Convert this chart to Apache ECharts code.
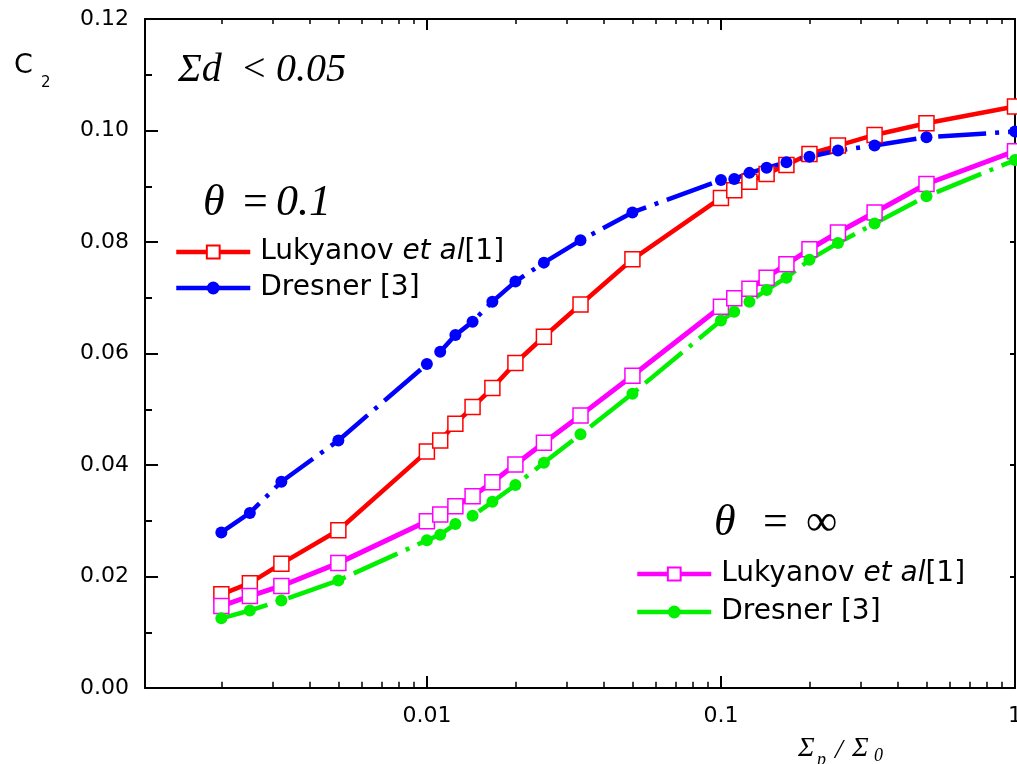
<!DOCTYPE html>
<html>
<head>
<meta charset="utf-8">
<script src="https://cdn.jsdelivr.net/npm/echarts@6.0.0/dist/echarts.min.js"></script>
<style>
  html, body { margin: 0; padding: 0; background: #fff; }
  #main { width: 1017px; height: 764px; }
</style>
</head>
<body>
<div id="main"></div>
<script>
  // Σp/Σ0 (x), roughly 1/500 ... 1
  var sigmaRatio = [0.002, 0.0025, 0.0032, 0.005, 0.01, 0.0111, 0.0125, 0.0143, 0.0167, 0.02, 0.025, 0.0333, 0.05,
                    0.1, 0.111, 0.125, 0.143, 0.167, 0.2, 0.25, 0.333, 0.5, 1];
  // C2 values
  var lukyanov01 = [0.0168, 0.0188, 0.0223, 0.0283, 0.0424, 0.0444, 0.0474, 0.0504, 0.0538, 0.0583, 0.0630, 0.0688, 0.0769,
                    0.0879, 0.0893, 0.0908, 0.0922, 0.0938, 0.0958, 0.0973, 0.0992, 0.1013, 0.1043];
  var dresner01 = [0.0279, 0.0314, 0.0370, 0.0444, 0.0581, 0.0603, 0.0633, 0.0657, 0.0693, 0.0729, 0.0763, 0.0803, 0.0853,
                   0.0911, 0.0913, 0.0924, 0.0933, 0.0943, 0.0953, 0.0964, 0.0973, 0.0988, 0.0998];
  var lukyanovInf = [0.0147, 0.0165, 0.0183, 0.0224, 0.0299, 0.0311, 0.0326, 0.0344, 0.0369, 0.0401, 0.0440, 0.0489, 0.0560,
                     0.0684, 0.0699, 0.0716, 0.0736, 0.0760, 0.0787, 0.0817, 0.0853, 0.0904, 0.0963];
  var dresnerInf = [0.0125, 0.0139, 0.0157, 0.0193, 0.0265, 0.0275, 0.0294, 0.0309, 0.0334, 0.0364, 0.0404, 0.0455, 0.0528,
                    0.0659, 0.0675, 0.0693, 0.0714, 0.0736, 0.0768, 0.0798, 0.0833, 0.0882, 0.0947];
  // minor ticks of the log axis
  var minorTickValues = [0.002, 0.003, 0.004, 0.005, 0.006, 0.007, 0.008, 0.009,
                         0.02, 0.03, 0.04, 0.05, 0.06, 0.07, 0.08, 0.09,
                         0.2, 0.3, 0.4, 0.5, 0.6, 0.7, 0.8, 0.9];

  function pairs(ys) {
    return sigmaRatio.map(function (x, i) { return [x, ys[i]]; });
  }

  // minor tick marks on bottom (pointing up) and top (pointing down)
  var minorTickLines = [];
  minorTickValues.forEach(function (v) {
    minorTickLines.push([{ coord: [v, 0] }, { coord: [v, 0.0011] }]);
    minorTickLines.push([{ coord: [v, 0.12] }, { coord: [v, 0.1191] }]);
  });

  var sans = 'DejaVu Sans';
  var serif = 'Liberation Serif';

  var legendText = {
    color: '#000', fontFamily: sans, fontSize: 28, lineHeight: 30, padding: [0, 0, 0, 5],
    rich: { i: { fontFamily: sans, fontSize: 28, fontStyle: 'italic', lineHeight: 30 } }
  };
  function legendFmt(name) {
    return name.indexOf('Lukyanov') === 0 ? 'Lukyanov {i|et al}[1]' : 'Dresner [3]';
  }
  function txt(x, y, text, size, family, italic) {
    return {
      type: 'text', x: x, y: y, silent: true,
      style: {
        text: text, fontSize: size, fontFamily: family, fontStyle: italic ? 'italic' : 'normal',
        fill: '#000', textAlign: 'left', textVerticalAlign: 'middle'
      }
    };
  }

  var chart = echarts.init(document.getElementById('main'));
  var option = {
    backgroundColor: '#fff',
    animation: false,
    grid: { left: 145, right: 2, top: 19, bottom: 76, containLabel: false, outerBoundsMode: 'none' },
    xAxis: [
      {
        type: 'log', logBase: 10, min: 0.0011, max: 1, position: 'bottom',
        axisLine: { show: true, onZero: false, lineStyle: { color: '#000', width: 2 } },
        axisTick: { show: true, inside: true, length: 12, lineStyle: { color: '#000', width: 2 } },
        axisLabel: {
          show: true, showMinLabel: false, margin: 17, color: '#000', fontFamily: sans, fontSize: 22,
          formatter: function (v) { return String(+v.toPrecision(3)); }
        },
        splitLine: { show: false }
      },
      {
        type: 'log', logBase: 10, min: 0.0011, max: 1, position: 'top',
        axisLine: { show: true, onZero: false, lineStyle: { color: '#000', width: 2 } },
        axisTick: { show: true, inside: true, length: 11, lineStyle: { color: '#000', width: 2 } },
        axisLabel: { show: false },
        splitLine: { show: false }
      }
    ],
    yAxis: [
      {
        type: 'value', min: 0, max: 0.12, interval: 0.02, position: 'left',
        axisLine: { show: true, onZero: false, lineStyle: { color: '#000', width: 2 } },
        axisTick: { show: true, inside: true, length: 13, lineStyle: { color: '#000', width: 2 } },
        minorTick: { show: true, splitNumber: 2, length: 7, lineStyle: { color: '#000', width: 2 } },
        axisLabel: {
          margin: 16, color: '#000', fontFamily: sans, fontSize: 22,
          formatter: function (v) { return v.toFixed(2); }
        },
        splitLine: { show: false }
      },
      {
        type: 'value', min: 0, max: 0.12, interval: 0.02, position: 'right',
        axisLine: { show: true, onZero: false, lineStyle: { color: '#000', width: 2 } },
        axisTick: { show: true, inside: true, length: 5, lineStyle: { color: '#000', width: 2 } },
        axisLabel: { show: false },
        splitLine: { show: false }
      }
    ],
    legend: [
      {
        data: ['Lukyanov θ=0.1', 'Dresner θ=0.1'], orient: 'vertical', left: 174, top: 237,
        itemWidth: 74, itemHeight: 16, itemGap: 6, padding: 0, selectedMode: false,
        lineStyle: { type: 'solid', width: 4.5 }, textStyle: legendText, formatter: legendFmt
      },
      {
        data: ['Lukyanov θ=∞', 'Dresner θ=∞'], orient: 'vertical', left: 635, top: 559,
        itemWidth: 74, itemHeight: 16, itemGap: 8, padding: 0, selectedMode: false,
        lineStyle: { type: 'solid', width: 4.5 }, textStyle: legendText, formatter: legendFmt
      }
    ],
    series: [
      {
        name: 'Lukyanov θ=0.1', type: 'line', data: pairs(lukyanov01), clip: false,
        symbol: 'rect', symbolSize: 15,
        lineStyle: { color: '#ff0000', width: 4.5 },
        itemStyle: { color: '#fff', borderColor: '#ff0000', borderWidth: 1.5 },
        markLine: {
          silent: true, symbol: ['none', 'none'], label: { show: false }, animation: false,
          lineStyle: { color: '#000', width: 1.5, type: 'solid' },
          emphasis: { disabled: true },
          data: minorTickLines
        }
      },
      {
        name: 'Dresner θ=0.1', type: 'line', data: pairs(dresner01), clip: false,
        symbol: 'circle', symbolSize: 12,
        lineStyle: { color: '#0000ff', width: 4.5, type: [48, 9, 4, 9] },
        itemStyle: { color: '#0000ff' }
      },
      {
        name: 'Lukyanov θ=∞', type: 'line', data: pairs(lukyanovInf), clip: false,
        symbol: 'rect', symbolSize: 15,
        lineStyle: { color: '#ff00ff', width: 5 },
        itemStyle: { color: '#fff', borderColor: '#ff00ff', borderWidth: 1.5 }
      },
      {
        name: 'Dresner θ=∞', type: 'line', data: pairs(dresnerInf), clip: false,
        symbol: 'circle', symbolSize: 12,
        lineStyle: { color: '#00f000', width: 4.5, type: [48, 9, 4, 9] },
        itemStyle: { color: '#00f000' }
      }
    ],
    graphic: [
      txt(14, 66, 'C', 27, sans, false),
      txt(41, 83, '2', 15, sans, false),
      txt(178, 70, 'Σd', 40, serif, true),
      txt(243, 70, '<', 40, serif, false),
      txt(276, 70, '0.05', 40, serif, true),
      txt(203, 203, 'θ', 44, serif, true),
      txt(243, 203, '=', 44, serif, false),
      txt(276, 203, '0.1', 44, serif, true),
      txt(714, 523, 'θ', 44, serif, true),
      txt(763, 523, '=', 44, serif, false),
      txt(806, 523, '∞', 44, serif, false),
      txt(798, 749, 'Σ', 28, serif, true),
      txt(817, 760, 'p', 18, serif, true),
      txt(835, 751, '/', 28, serif, true),
      txt(852, 749, 'Σ', 28, serif, true),
      txt(874, 756, '0', 18, serif, true)
    ]
  };
  chart.setOption(option);
</script>
</body>
</html>
